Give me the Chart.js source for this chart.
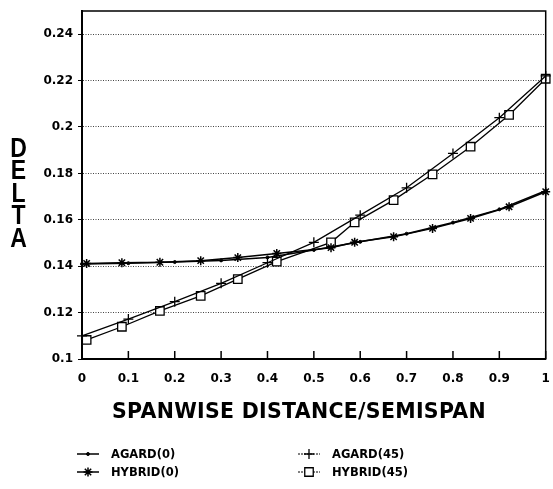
<!DOCTYPE html>
<html>
<head>
<meta charset="utf-8">
<script src="https://cdn.jsdelivr.net/npm/chart.js@4/dist/chart.umd.min.js"></script>
<style>
  body { margin: 0; background: #fff; }
  #wrap { position: relative; width: 553px; height: 489px; }
  #chart { position: absolute; left: 0; top: 0; }
  #ytitle {
    position: absolute; left: 0; top: 137px; width: 37px;
    font: bold 23px "Liberation Sans", Arial, sans-serif; line-height: 19px;
    text-align: center; color: #000; transform: scaleY(1.18); transform-origin: top;
  }
  #xtitle {
    position: absolute; left: 60px; width: 478px; top: 399px; text-align: center;
    font: bold 20.5px "DejaVu Sans", sans-serif; color: #000; white-space: nowrap;
    letter-spacing: 0.3px;
  }
</style>
</head>
<body>
<div id="wrap">
  <canvas id="chart" width="553" height="489"></canvas>
  <div id="ytitle">D<br>E<br>L<br>T<br>A</div>
  <div id="xtitle">SPANWISE DISTANCE/SEMISPAN</div>
</div>
<script>
// --- data ---
const xTicks = [0, 0.1, 0.2, 0.3, 0.4, 0.5, 0.6, 0.7, 0.8, 0.9, 1];
const xTickLabels = ["0", "0.1", "0.2", "0.3", "0.4", "0.5", "0.6", "0.7", "0.8", "0.9", "1"];
const yTicks = [0.1, 0.12, 0.14, 0.16, 0.18, 0.2, 0.22, 0.24];
const yTickLabels = ["0.1", "0.12", "0.14", "0.16", "0.18", "0.2", "0.22", "0.24"];

const agardX = [0, 0.1, 0.2, 0.3, 0.4, 0.5, 0.6, 0.7, 0.8, 0.9, 1.0];
const agard0 = [0.1410, 0.1413, 0.1418, 0.1425, 0.1438, 0.1470, 0.1505, 0.1540, 0.1588, 0.1645, 0.1725];
const agard45 = [0.1100, 0.1172, 0.1247, 0.1326, 0.1415, 0.1503, 0.1620, 0.1738, 0.1886, 0.2040, 0.2220];

const hybridX = [0.01, 0.086, 0.168, 0.256, 0.336, 0.42, 0.537, 0.588, 0.672, 0.756, 0.838, 0.921, 1.0];
const hybrid0 = [0.1412, 0.1415, 0.1417, 0.1424, 0.1437, 0.1455, 0.1480, 0.1503, 0.1527, 0.1563, 0.1606, 0.1656, 0.1721];
const hybrid45 = [0.1082, 0.1139, 0.1207, 0.1272, 0.1344, 0.1420, 0.1503, 0.1589, 0.1685, 0.1796, 0.1915, 0.2052, 0.2208];

const seriesNames = ["AGARD(0)", "HYBRID(0)", "AGARD(45)", "HYBRID(45)"];

function pts(xs, ys) { return xs.map((x, i) => ({ x: x, y: ys[i] })); }

const tickFont = { family: "DejaVu Sans", size: 12, weight: "bold" };

// box round the plot + inward ticks on the x axis
const framePlugin = {
  id: "frame",
  afterDraw(chart) {
    const { ctx, chartArea: a, scales } = chart;
    ctx.save();
    ctx.strokeStyle = "#000";
    ctx.lineWidth = 1.5;
    ctx.strokeRect(a.left, a.top, a.right - a.left, a.bottom - a.top);
    ctx.beginPath();
    xTicks.forEach(v => {
      const px = scales.x.getPixelForValue(v);
      ctx.moveTo(px, a.bottom);
      ctx.lineTo(px, a.bottom - 8);
    });
    ctx.stroke();
    ctx.restore();
  }
};

// 2x2 legend under the chart
const legendPlugin = {
  id: "legend2",
  afterDraw(chart) {
    const ctx = chart.ctx;
    const spots = [[77, 454], [77, 472], [298, 454], [298, 472]];
    ctx.save();
    chart.data.datasets.forEach((ds, i) => {
      const [x, y] = spots[i];
      ctx.strokeStyle = "#000";
      ctx.lineWidth = i < 2 ? 1.5 : 1;
      ctx.setLineDash(i < 2 ? [] : [2, 1]);
      ctx.beginPath();
      ctx.moveTo(x, y);
      ctx.lineTo(x + 22, y);
      ctx.stroke();
      ctx.setLineDash([]);
      ctx.fillStyle = ds.pointBackgroundColor;
      ctx.lineWidth = ds.pointBorderWidth;
      Chart.helpers.drawPoint(ctx, { pointStyle: ds.pointStyle, radius: ds.pointRadius, rotation: 0, borderWidth: ds.pointBorderWidth }, x + 11, y);
      ctx.fillStyle = "#000";
      ctx.font = "bold 11.5px 'DejaVu Sans'";
      ctx.textBaseline = "middle";
      ctx.fillText(seriesNames[i], x + 34, y + 1);
    });
    ctx.restore();
  }
};

new Chart(document.getElementById("chart"), {
  type: "line",
  data: {
    datasets: [
      { label: seriesNames[0], data: pts(agardX, agard0), borderColor: "#000", borderWidth: 1.5,
        pointStyle: "circle", pointRadius: 1.5, pointBackgroundColor: "#000", pointBorderColor: "#000", pointBorderWidth: 1 },
      { label: seriesNames[1], data: pts(hybridX, hybrid0), borderColor: "#000", borderWidth: 1.5,
        pointStyle: "star", pointRadius: 4.5, pointBackgroundColor: "#000", pointBorderColor: "#000", pointBorderWidth: 1.5 },
      { label: seriesNames[2], data: pts(agardX, agard45), borderColor: "#000", borderWidth: 1.3,
        pointStyle: "cross", pointRadius: 5, pointBackgroundColor: "#000", pointBorderColor: "#000", pointBorderWidth: 1.3 },
      { label: seriesNames[3], data: pts(hybridX, hybrid45), borderColor: "#000", borderWidth: 1.3,
        pointStyle: "rect", pointRadius: 6, pointBackgroundColor: "#fff", pointBorderColor: "#000", pointBorderWidth: 1.3 }
    ]
  },
  options: {
    responsive: false,
    animation: false,
    clip: false,
    layout: { padding: { left: 0, right: 4, top: 11, bottom: 70 } },
    elements: { line: { tension: 0, fill: false } },
    plugins: { legend: { display: false }, tooltip: { enabled: false } },
    scales: {
      x: {
        type: "linear", min: 0, max: 1,
        afterBuildTicks: s => { s.ticks = xTicks.map(v => ({ value: v })); },
        afterFit: s => { s.height = 60; s.paddingRight = 0; s.paddingLeft = 0; },
        ticks: { font: tickFont, color: "#000", padding: 13, maxRotation: 0,
                 callback: (v) => xTickLabels[xTicks.indexOf(v)] },
        grid: { drawOnChartArea: false, drawTicks: false },
        border: { color: "#000", width: 2 }
      },
      y: {
        type: "linear", min: 0.1, max: 0.25,
        afterBuildTicks: s => { s.ticks = yTicks.map(v => ({ value: v })); },
        afterFit: s => { s.width = 82; s.paddingTop = 0; s.paddingBottom = 0; },
        ticks: { font: tickFont, color: "#000", padding: 5,
                 callback: (v) => yTickLabels[yTicks.indexOf(v)] },
        grid: { color: "#444", lineWidth: 1, tickLength: 4, tickColor: "#000", tickBorderDash: [], borderDash: [1, 1.5] },
        border: { color: "#000", width: 2, dash: [1, 1.5] }
      }
    }
  },
  plugins: [framePlugin, legendPlugin]
});
</script>
</body>
</html>
